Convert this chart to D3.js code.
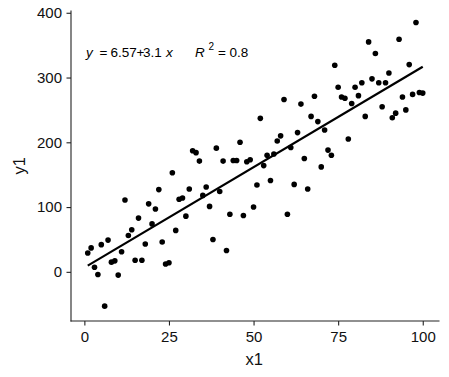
<!DOCTYPE html>
<html><head><meta charset="utf-8">
<script src="https://cdn.jsdelivr.net/npm/d3@7"></script>
<style>body{margin:0;background:#fff;} svg{display:block;font-family:"Liberation Sans",Arial,sans-serif;}</style>
</head><body><svg id="c" width="449" height="377"></svg>
<script>
const x1 = d3.range(1, 101);
const y1 = [29,37,7,-4,42,-53,49,15,17,-5,31,111,56,65,18,83,18,43,105,74,
  97,127,46,12,14,153,64,112,114,86,128,187,184,171,118,131,101,50,191,124,
  171,33,89,172,172,200,87,170,173,100,134,237,164,180,141,182,202,210,266,89,
  192,135,215,259,175,128,240,271,232,162,219,188,180,319,285,270,268,205,260,285,
  272,292,240,355,298,337,292,255,292,307,238,245,359,270,250,320,274,385,277,276];
const fitIntercept = 6.57, fitSlope = 3.1, fitR2 = 0.8;
const xTicks = [0,25,50,75,100];
const yTicks = [0,100,200,300,400];

const svg = d3.select("#c");
const L = 71, R = 439.5, T = 10.5, B = 321;
const x = d3.scaleLinear().domain([-3.95,104.95]).range([L,R]);
const y = d3.scaleLinear().domain([-75.9,403.5]).range([B,T]);

const xa = svg.append("g").attr("transform",`translate(0,${B})`)
  .call(d3.axisBottom(x).tickValues(xTicks).tickSize(4.5).tickPadding(5.5).tickSizeOuter(0));
const ya = svg.append("g").attr("transform",`translate(${L},0)`)
  .call(d3.axisLeft(y).tickValues(yTicks).tickSize(4.5).tickPadding(4.5).tickSizeOuter(0));
[xa,ya].forEach(a=>{
  a.select(".domain").attr("stroke","#222").attr("stroke-width",1.1);
  a.selectAll(".tick line").attr("stroke","#222").attr("stroke-width",1.1);
  a.selectAll(".tick text").attr("fill","#111").attr("font-size",15).attr("font-family","Liberation Sans, Arial, sans-serif");
});
xa.select(".domain").attr("d",`M${L-0.5},0H${R}`);
ya.select(".domain").attr("d",`M0,${T}V${B+0.5}`);

svg.append("g").selectAll("circle").data(x1.map((v,i)=>[v,y1[i]])).join("circle")
  .attr("cx",d=>x(d[0])).attr("cy",d=>y(d[1])).attr("r",2.8).attr("fill","#000");

const xs = d3.extent(x1);
svg.append("line")
  .attr("x1",x(xs[0])).attr("y1",y(fitIntercept+fitSlope*xs[0]))
  .attr("x2",x(xs[1])).attr("y2",y(fitIntercept+fitSlope*xs[1]))
  .attr("stroke","#000").attr("stroke-width",2.2);

// equation label, laid out like R plotmath
const lab = svg.append("g").attr("font-size",13.5).attr("fill","#000");
const seg = (px, txt, italic, extra) => {
  const e = lab.append("text").attr("x",px).attr("y",extra && extra.y || 57.3).text(txt);
  if (italic) e.attr("font-style","italic");
  if (extra && extra.size) e.attr("font-size",extra.size);
};
seg(86, "y", true);
seg(99.5, "=", false);
seg(110.5, String(fitIntercept), false);
seg(136.5, "+", false);
seg(143, String(fitSlope), false);
seg(166, "x", true);
seg(195, "R", true);
seg(208.5, "2", false, {y:50, size:10});
seg(218, "=", false);
seg(229.5, String(fitR2), false);

svg.append("text").attr("x",(L+R)/2-1).attr("y",365).attr("text-anchor","middle")
  .attr("font-size",16.5).attr("fill","#111").text("x1");
svg.append("text").attr("transform",`translate(25,${(T+B)/2}) rotate(-90)`).attr("text-anchor","middle")
  .attr("font-size",16.5).attr("fill","#111").text("y1");
</script></body></html>
